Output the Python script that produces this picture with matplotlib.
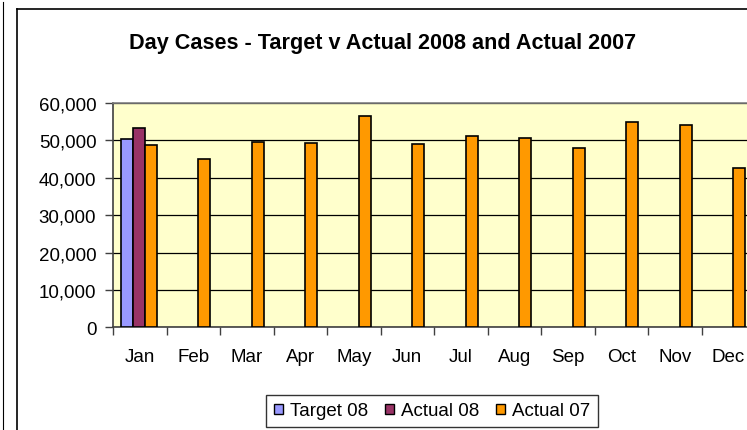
import numpy as np
import matplotlib
matplotlib.use("Agg")
import matplotlib.pyplot as plt
from matplotlib.patches import Patch
from matplotlib.lines import Line2D

months = ["Jan", "Feb", "Mar", "Apr", "May", "Jun", "Jul", "Aug", "Sep", "Oct", "Nov", "Dec"]
target_08 = [50300] + [np.nan] * 11
actual_08 = [53300] + [np.nan] * 11
actual_07 = [48700, 45000, 49500, 49200, 56600, 49100, 51200, 50700, 47900, 55000, 54100, 42500]
series_names = ["Target 08", "Actual 08", "Actual 07"]
series_colors = ["#9999FF", "#993366", "#FF9900"]
yticks = [0, 10000, 20000, 30000, 40000, 50000, 60000]

plt.rcParams['font.family'] = ['Liberation Sans', 'DejaVu Sans']

W, H = 747, 431
fig = plt.figure(figsize=(W / 100, H / 100), dpi=100)
fig.patch.set_facecolor("white")

ax_left, ax_right, ax_top, ax_bot = 113, 755, 104, 328.3
ax = fig.add_axes([ax_left / W, (H - ax_bot) / H, (ax_right - ax_left) / W, (ax_bot - ax_top) / H])
ax.set_facecolor("#FFFFCC")

x = np.arange(len(months))
bw = 0.224
series = [target_08, actual_08, actual_07]
for i, (vals, c) in enumerate(zip(series, series_colors)):
    ax.bar(x + (i - 1) * bw - 0.02, vals, width=bw, color=c, edgecolor="black", linewidth=1.2, zorder=3)

ax.set_xlim(-0.5, 11.5)
ax.set_ylim(0, 60000)
ax.set_yticks(yticks)
ax.set_yticklabels([f"{v:,}" for v in yticks])
ax.yaxis.grid(True, color="black", linewidth=0.9, zorder=1)
ax.set_axisbelow(True)

fs = 13.5
ax.set_xticks(np.arange(-0.5, 12, 1))
ax.set_xticklabels([])
ax.set_xticks(x, minor=True)
ax.set_xticklabels(months, minor=True)
ax.tick_params(axis="x", which="major", length=6, width=1, color="#404040", direction="out")
ax.tick_params(axis="x", which="minor", length=0, pad=15, labelsize=fs)
ax.tick_params(axis="y", length=6, width=1, color="#404040", direction="out", pad=6, labelsize=fs)

for s in ["left", "bottom"]:
    ax.spines[s].set_color("#404040")
    ax.spines[s].set_linewidth(1.2)
ax.spines["top"].set_color("#808080")
ax.spines["top"].set_linewidth(1.2)
ax.spines["right"].set_color("#808080")

fig.text(383 / W, (H - 43) / H, "Day Cases - Target v Actual 2008 and Actual 2007",
         ha="center", va="center", fontsize=15.6, fontweight="bold")

handles = [Patch(facecolor=c, edgecolor="black", linewidth=1) for c in series_colors]
leg = fig.legend(handles, series_names, loc="center", bbox_to_anchor=(432 / W, (H - 412) / H),
                 ncol=3, frameon=True, fancybox=False, edgecolor="black", fontsize=fs,
                 handlelength=0.5, handleheight=0.5, handletextpad=0.35, columnspacing=0.9,
                 borderpad=0.4, borderaxespad=0)
leg.get_frame().set_linewidth(1.0)

# chart frame
fig.add_artist(Line2D([17 / W, 17 / W], [0, (H - 10) / H], color="black", linewidth=1.2, transform=fig.transFigure))
fig.add_artist(Line2D([17 / W, 1], [(H - 10) / H, (H - 10) / H], color="black", linewidth=1.2, transform=fig.transFigure))
fig.add_artist(Line2D([3 / W, 3 / W], [0, (H - 3) / H], color="black", linewidth=0.8, transform=fig.transFigure))

fig.savefig("out.png", dpi=100)
